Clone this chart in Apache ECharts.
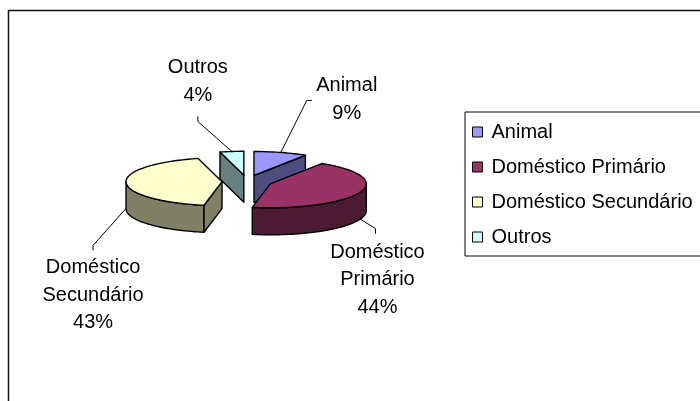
<!DOCTYPE html>
<html>
<head>
<meta charset="utf-8">
<script src="https://cdn.jsdelivr.net/npm/echarts@6/dist/echarts.min.js"></script>
<style>
  html, body { margin: 0; padding: 0; background: #fff; }
  #main { width: 700px; height: 401px; }
</style>
</head>
<body>
<div id="main"></div>
<script>
const categories = ['Animal', 'Doméstico Primário', 'Doméstico Secundário', 'Outros']
const shares = [9, 44, 43, 4]
const topColors = ['#9999FF', '#993366', '#FFFFCC', '#CCFFFF']
const sideColors = ['#4D4D80', '#4D1A33', '#808066', '#668080']

// label line elbow / end / text centre, relative to the slice anchor point
const labelLayout = [
  { elbow: [26, -52], end: [31, -52], text: [66, -53] },
  { elbow: [16, 10], end: [16, 15], text: [18, 61] },
  { elbow: [-33, 37], end: [-33, 42], text: [-33, 87] },
  { elbow: [-34, -30], end: [-34, -35], text: [-34, -70] }
]

const chart = echarts.init(document.getElementById('main'))

const pie = { cx: 247, cy: 181.5, rx: 96, ry: 24, h: 27, explode: 25 }
const rad = (d) => (d * Math.PI) / 180

function renderSlice(params, api) {
  const n = params.dataInsideLength
  const idx = params.dataIndexInside
  let total = 0
  let before = 0
  for (let i = 0; i < n; i++) {
    const v = api.value(0, i)
    total += v
    if (i < idx) before += v
  }
  const v = api.value(0)
  const a = (before / total) * 360
  const b = ((before + v) / total) * 360
  const m = (a + b) / 2
  const k = pie.ry / pie.rx
  const ox = pie.explode * Math.sin(rad(m))
  const oy = -pie.explode * k * Math.cos(rad(m))
  const px = pie.cx + ox
  const py = pie.cy + oy
  const pt = (t, dy) => [px + pie.rx * Math.sin(rad(t)), py - pie.ry * Math.cos(rad(t)) + (dy || 0)]
  const arc = (s, e, dy) => {
    const out = []
    const steps = Math.max(2, Math.ceil((e - s) / 2))
    for (let j = 0; j <= steps; j++) out.push(pt(s + ((e - s) * j) / steps, dy))
    return out
  }
  const depth = -Math.cos(rad(m))
  const base = Math.round((depth + 1) * 100)
  const edge = { stroke: '#000', lineWidth: 1.4, lineJoin: 'round' }
  const side = Object.assign({ fill: sideColors[idx] }, edge)
  const children = []

  // outer wall, only the front half is visible
  const s = Math.max(a, 90)
  const e = Math.min(b, 270)
  if (s < e) {
    const pts = arc(s, e, 0).concat(arc(s, e, pie.h).reverse())
    children.push({ type: 'polygon', z2: base + 1, shape: { points: pts }, style: side })
  }
  // radial faces
  if (Math.sin(rad(a)) < -1e-6) {
    const A = pt(a, 0)
    children.push({ type: 'polygon', z2: base + 1, shape: { points: [[px, py], A, [A[0], A[1] + pie.h], [px, py + pie.h]] }, style: side })
  }
  if (Math.sin(rad(b)) > 1e-6) {
    const B = pt(b, 0)
    children.push({ type: 'polygon', z2: base + 1, shape: { points: [[px, py], B, [B[0], B[1] + pie.h], [px, py + pie.h]] }, style: side })
  }
  // top face
  children.push({
    type: 'polygon',
    z2: base + 2,
    shape: { points: [[px, py]].concat(arc(a, b, 0)) },
    style: Object.assign({ fill: topColors[idx] }, edge)
  })

  // label with leader line
  const front = m > 90 && m < 270
  const anchor = pt(m, front ? pie.h - 1 : 0)
  const lay = labelLayout[idx]
  const at = (o) => [anchor[0] + o[0], anchor[1] + o[1]]
  children.push({
    type: 'polyline',
    z2: 900,
    shape: { points: [anchor, at(lay.elbow), at(lay.end)] },
    style: { stroke: '#000', lineWidth: 1, fill: null }
  })
  const t = at(lay.text)
  const pct = Math.round((v / total) * 100) + '%'
  children.push({
    type: 'text',
    z2: 900,
    x: t[0],
    y: t[1],
    style: {
      text: categories[idx].split(' ').concat(pct).join('\n'),
      fill: '#000',
      font: '20px "Liberation Sans", Arial, sans-serif',
      lineHeight: 27.5,
      align: 'center',
      verticalAlign: 'middle'
    }
  })

  return { type: 'group', children: children }
}

const option = {
  animation: false,
  backgroundColor: '#fff',
  graphic: [
    {
      type: 'rect',
      shape: { x: 8.5, y: 10.5, width: 900, height: 600 },
      style: { fill: null, stroke: '#111', lineWidth: 1.5 },
      silent: true
    }
  ],
  legend: {
    orient: 'vertical',
    left: 465,
    top: 112,
    itemWidth: 10,
    itemHeight: 10,
    itemGap: 15,
    padding: [10, 40, 9, 7],
    borderColor: '#000',
    borderWidth: 1,
    selectedMode: false,
    icon: 'rect',
    itemStyle: { borderColor: '#000', borderWidth: 1 },
    textStyle: {
      fontFamily: 'Liberation Sans',
      fontSize: 20,
      lineHeight: 20,
      color: '#000',
      padding: [0, 0, 0, 4]
    },
    data: categories
  },
  series: [
    {
      // only feeds the legend
      type: 'pie',
      center: [-200, -200],
      radius: 1,
      silent: true,
      label: { show: false },
      labelLine: { show: false },
      data: categories.map((c, i) => ({ name: c, value: shares[i], itemStyle: { color: topColors[i] } }))
    },
    {
      type: 'custom',
      coordinateSystem: 'none',
      silent: true,
      renderItem: renderSlice,
      data: shares.map((v, i) => ({ name: categories[i], value: v }))
    }
  ]
}

chart && chart.setOption(option)
</script>
</body>
</html>
